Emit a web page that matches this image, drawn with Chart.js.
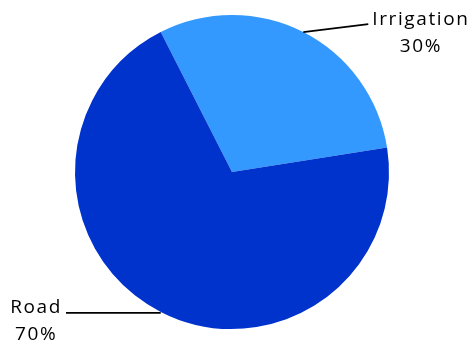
<!DOCTYPE html>
<html>
<head>
<meta charset="utf-8">
<script src="https://cdn.jsdelivr.net/npm/chart.js@4"></script>
<style>
  html, body { margin: 0; padding: 0; background: #fff; }
  #wrap { width: 476px; height: 349px; }
</style>
</head>
<body>
<div id="wrap"><canvas id="pie"></canvas></div>
<script>
const categories = ['Irrigation', 'Road'];
const shares = [30, 70];
const sliceColors = ['#3399ff', '#0033cc'];

// callout labels: leader line from slice mid-edge to the text
const calloutPlugin = {
  id: 'callouts',
  afterDatasetsDraw(chart) {
    const ctx = chart.ctx;
    const arcs = chart.getDatasetMeta(0).data;
    ctx.save();
    ctx.font = "19px 'Open Sans', sans-serif";
    ctx.letterSpacing = '1.6px';
    ctx.fillStyle = '#000';
    ctx.strokeStyle = '#000';
    ctx.lineWidth = 1.8;
    ctx.textBaseline = 'middle';
    arcs.forEach((arc, i) => {
      const p = arc.getProps(['x', 'y', 'startAngle', 'endAngle', 'outerRadius'], true);
      const mid = (p.startAngle + p.endAngle) / 2;
      const sx = p.x + Math.cos(mid) * p.outerRadius;
      const sy = p.y + Math.sin(mid) * p.outerRadius;
      const right = Math.cos(mid) > 0;
      let ex, ey;
      if (right) { ex = sx + 65; ey = sy - 8; } else { ex = 66; ey = sy + 1; }
      ctx.beginPath();
      ctx.moveTo(sx, right ? sy : ey);
      ctx.lineTo(ex, ey);
      ctx.stroke();
      const name = categories[i];
      const pct = shares[i] + '%';
      const w = ctx.measureText(name).width;
      let tx = right ? ex + 4 : ex - 4 - w;
      ctx.textAlign = 'left';
      ctx.fillText(name, tx, ey - 5);
      ctx.textAlign = 'center';
      ctx.fillText(pct, tx + w / 2, ey + 22);
    });
    ctx.restore();
  }
};

new Chart(document.getElementById('pie'), {
  type: 'pie',
  data: {
    labels: categories,
    datasets: [{
      data: shares,
      backgroundColor: sliceColors,
      borderWidth: 0
    }]
  },
  options: {
    responsive: true,
    maintainAspectRatio: false,
    animation: false,
    rotation: -27,
    layout: { padding: { top: 15, bottom: 20, left: 75, right: 87 } },
    plugins: { legend: { display: false }, tooltip: { enabled: false } }
  },
  plugins: [calloutPlugin]
});
</script>
</body>
</html>
